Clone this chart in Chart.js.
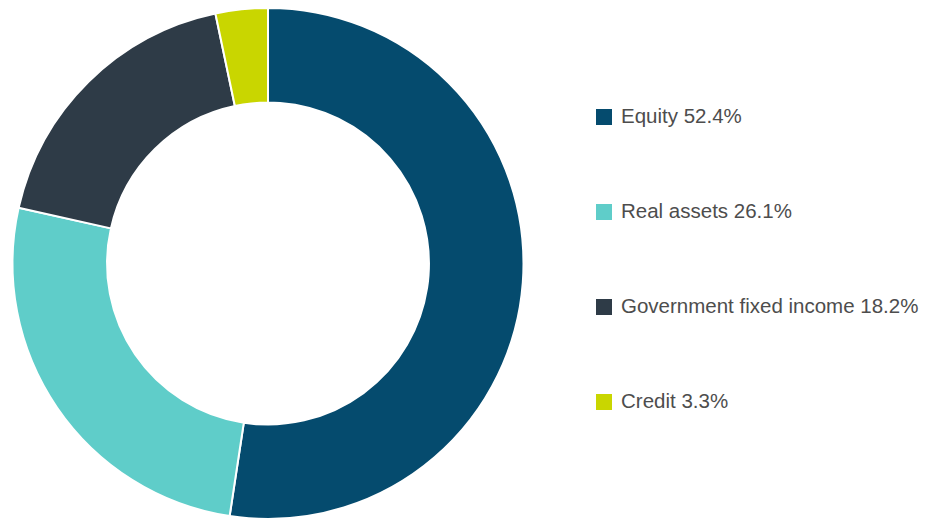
<!DOCTYPE html>
<html>
<head>
<meta charset="utf-8">
<script src="https://cdn.jsdelivr.net/npm/chart.js@4.4.0/dist/chart.umd.min.js"></script>
<style>
  html, body { margin: 0; padding: 0; background: #fff; }
  #wrap { position: relative; width: 930px; height: 520px; }
  #pie-box { position: absolute; left: 0; top: 0; width: 536px; height: 520px; }
  #legend { position: absolute; left: 596px; top: 0; margin: 0; padding: 0; list-style: none;
    font-family: "Liberation Sans", Arial, sans-serif; font-size: 20.5px; color: #4d4d4d; }
  #legend li { position: absolute; left: 0; white-space: nowrap; height: 24px; line-height: 24px; }
  #legend span.box { display: inline-block; width: 16px; height: 16px; margin-right: 9px; vertical-align: -2px; }
</style>
</head>
<body>
<div id="wrap">
  <div id="pie-box"><canvas id="alloc-chart"></canvas></div>
  <ul id="legend"></ul>
</div>
<script>
// asset classes and their share of the portfolio (%)
const categories = ['Equity', 'Real assets', 'Government fixed income', 'Credit'];
const shares = [52.4, 26.1, 18.2, 3.3];
const sliceColors = ['#054b6e', '#5fcdc9', '#2e3b47', '#c9d600'];

// legend rows sit on the right, one every 95px
const legendTops = [104, 199, 294, 389];

var ctx = document.getElementById('alloc-chart');

new Chart(ctx, {
    type: 'doughnut',
    data: {
        labels: categories,
        datasets: [{
            data: shares,
            backgroundColor: sliceColors,
            borderColor: '#ffffff',
            borderWidth: 2
        }]
    },
    options: {
        responsive: true,
        maintainAspectRatio: false,
        animation: false,
        cutout: '63%',
        layout: { padding: { top: 7, bottom: 0 } },
        plugins: {
            legend: { display: false },
            tooltip: { enabled: false }
        }
    }
});

// build the legend from the same arrays
const list = document.getElementById('legend');
categories.forEach(function (name, i) {
    const li = document.createElement('li');
    li.style.top = legendTops[i] + 'px';
    const box = document.createElement('span');
    box.className = 'box';
    box.style.background = sliceColors[i];
    li.appendChild(box);
    li.appendChild(document.createTextNode(name + ' ' + shares[i].toFixed(1) + '%'));
    list.appendChild(li);
});
</script>
</body>
</html>
